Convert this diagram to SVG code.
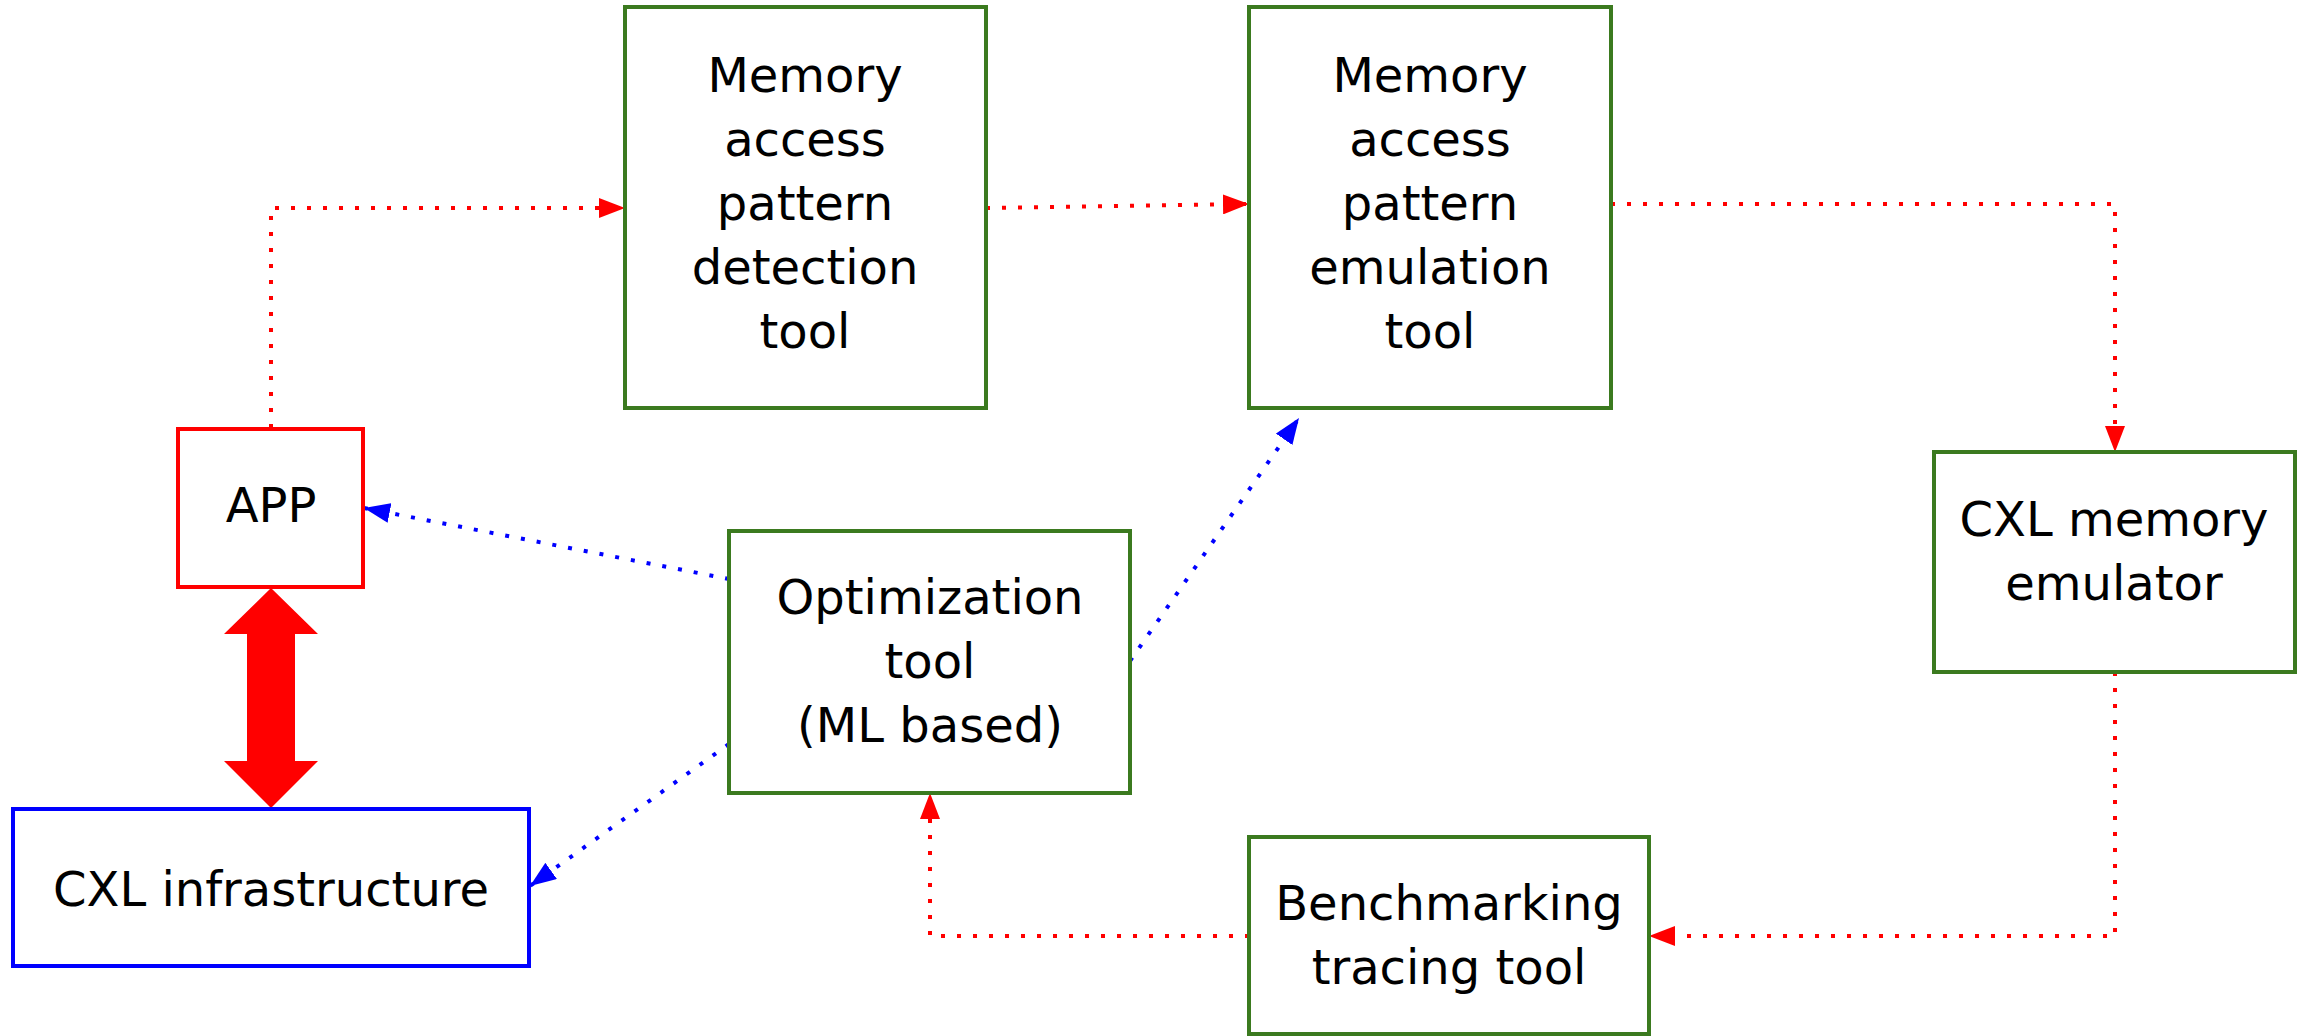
<svg xmlns="http://www.w3.org/2000/svg" width="2308" height="1036" viewBox="0 0 2308 1036">
<style>
  .box { fill: #ffffff; stroke-width: 4; }
  .green { stroke: #3b7a1f; }
  .red { stroke: #ff0000; }
  .blue { stroke: #0000ff; }
  text { font-family: "DejaVu Sans", "Open Sans", sans-serif; font-size: 48px; fill: #000000; text-anchor: middle; }
  .con { fill: none; stroke-width: 4; stroke-dasharray: 4 12; }
</style>
<defs>
  <marker id="ar" viewBox="0 0 26 20" refX="26" refY="10" markerWidth="26" markerHeight="20" markerUnits="userSpaceOnUse" orient="auto">
    <path d="M0,0 L26,10 L0,20 z" fill="#ff0000"/>
  </marker>
  <marker id="ab" viewBox="0 0 26 20" refX="26" refY="10" markerWidth="26" markerHeight="20" markerUnits="userSpaceOnUse" orient="auto">
    <path d="M0,0 L26,10 L0,20 z" fill="#0000ff"/>
  </marker>
</defs>
<rect width="2308" height="1036" fill="#ffffff"/>
<g id="connectors">
  <path class="con red" d="M271,428 V208 H625" marker-end="url(#ar)"/>
  <path class="con red" d="M986,208 L1249,204" marker-end="url(#ar)"/>
  <path class="con red" d="M1611,204 H2115 V452" marker-end="url(#ar)"/>
  <path class="con red" d="M2115,672 V936 H1649" marker-end="url(#ar)"/>
  <path class="con red" d="M1249,936 H930 V793" marker-end="url(#ar)"/>
  <path class="con blue" d="M729,579 L364,508" marker-end="url(#ab)"/>
  <path class="con blue" d="M1130,661 L1299,418" marker-end="url(#ab)"/>
  <path class="con blue" d="M729,744 L530,886" marker-end="url(#ab)"/>
  <polygon id="app-cxl-link" points="271,588 318,634 295,634 295,761 318,761 271,808 224,761 247,761 247,634 224,634" fill="#ff0000"/>
</g>
<g id="detection">
  <rect class="box green" x="625" y="7" width="361" height="401"/>
  <text x="805" y="92">Memory</text>
  <text x="805" y="156">access</text>
  <text x="805" y="220">pattern</text>
  <text x="805" y="284">detection</text>
  <text x="805" y="348">tool</text>
</g>
<g id="emulation">
  <rect class="box green" x="1249" y="7" width="362" height="401"/>
  <text x="1430" y="92">Memory</text>
  <text x="1430" y="156">access</text>
  <text x="1430" y="220">pattern</text>
  <text x="1430" y="284">emulation</text>
  <text x="1430" y="348">tool</text>
</g>
<g id="app">
  <rect class="box red" x="178" y="429" width="185" height="158"/>
  <text x="271" y="522">APP</text>
</g>
<g id="cxl-emulator">
  <rect class="box green" x="1934" y="452" width="361" height="220"/>
  <text x="2114" y="536">CXL memory</text>
  <text x="2114" y="600">emulator</text>
</g>
<g id="optimization">
  <rect class="box green" x="729" y="531" width="401" height="262"/>
  <text x="930" y="614">Optimization</text>
  <text x="930" y="678">tool</text>
  <text x="930" y="742">(ML based)</text>
</g>
<g id="cxl-infra">
  <rect class="box blue" x="13" y="809" width="516" height="157"/>
  <text x="271" y="906">CXL infrastructure</text>
</g>
<g id="benchmarking">
  <rect class="box green" x="1249" y="837" width="400" height="197"/>
  <text x="1449" y="920">Benchmarking</text>
  <text x="1449" y="984">tracing tool</text>
</g>
</svg>
